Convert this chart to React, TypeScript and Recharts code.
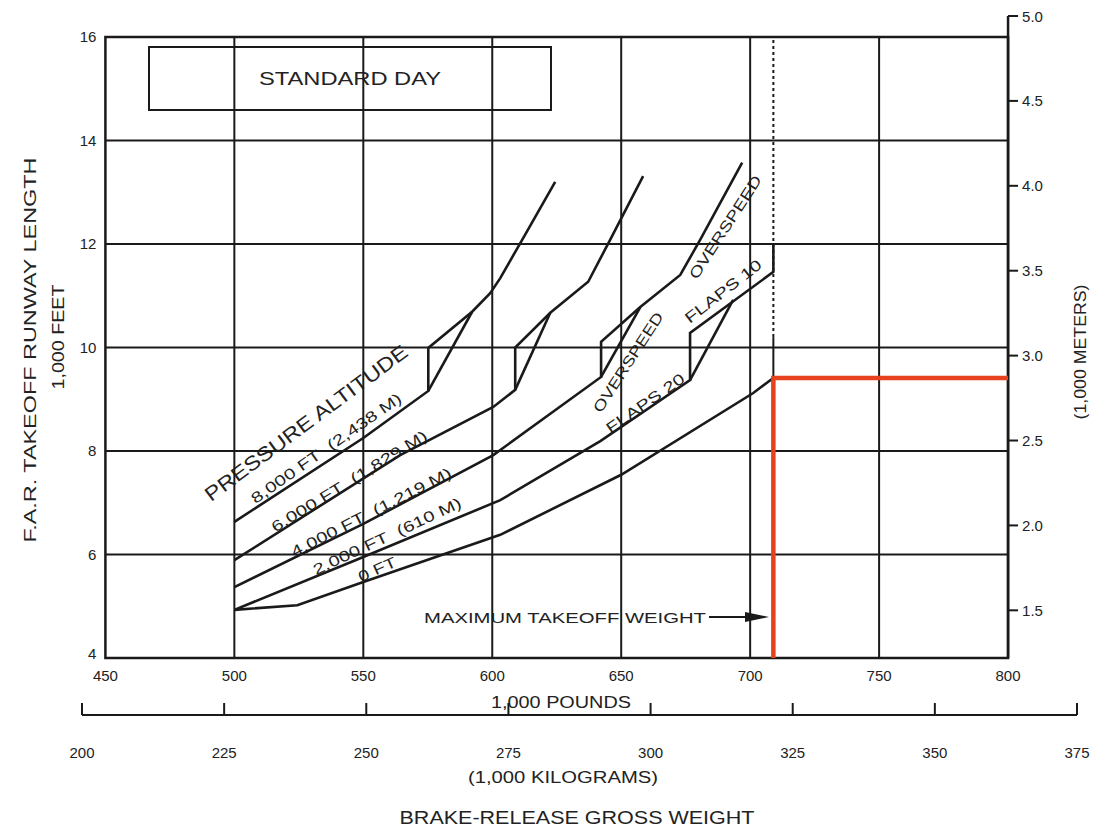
import React from 'react';
import { LineChart, Line, XAxis, YAxis, ReferenceLine, ReferenceArea } from 'recharts';

// axis ticks
const LB_TICKS = [450, 500, 550, 600, 650, 700, 750, 800];
const KG_TICKS = [200, 225, 250, 275, 300, 325, 350, 375];
const FT_TICKS = [4, 6, 8, 10, 12, 14, 16];
const M_TICKS = [1.5, 2.0, 2.5, 3.0, 3.5, 4.0, 4.5, 5.0];
const GRID_LB = [500, 550, 600, 650, 700, 750];
const GRID_FT = [6, 8, 10, 12, 14];

// [1,000 lb, 1,000 ft]
const ALT_8000 = [[500, 6.63], [550, 8.25], [575.2, 9.16], [575.2, 9.99], [592.2, 10.69], [599.2, 11.05], [603.1, 11.34], [611.6, 12.08], [624.4, 13.2]];
const ALT_8000_OVERSPEED = [[575.2, 9.16], [592.2, 10.69]];
const ALT_6000 = [[500, 5.89], [564.3, 7.92], [600.4, 8.85], [608.9, 9.18], [608.9, 10.0], [622.5, 10.67], [637.2, 11.27], [645.7, 12.08], [658.5, 13.31]];
const ALT_6000_OVERSPEED = [[608.9, 9.18], [622.5, 10.67]];
const ALT_4000 = [[500, 5.37], [550, 6.59], [600.4, 7.92], [642.2, 9.43], [642.2, 10.11], [657.4, 10.78], [672.9, 11.4], [680.6, 12.08], [696.9, 13.57]];
const ALT_4000_OVERSPEED = [[642.2, 9.43], [657.4, 10.78]];
const ALT_2000 = [[500, 4.93], [550, 5.95], [603.1, 7.05], [641.9, 8.19], [676.7, 9.37], [676.7, 10.28], [709, 11.46], [709, 11.98]];
const ALT_2000_OVERSPEED = [[676.7, 9.37], [693.4, 10.92]];
const ALT_0 = [[500, 4.93], [524.4, 5.02], [550, 5.47], [603.1, 6.38], [650, 7.54], [701.2, 9.12], [709, 9.41]];

const MAX_TAKEOFF_WEIGHT = 709;
const MTOW_RUNWAY = 9.41;
const MTOW_PATH = [[MAX_TAKEOFF_WEIGHT, 4], [MAX_TAKEOFF_WEIGHT, MTOW_RUNWAY], [800, MTOW_RUNWAY]];

const KG_PER_LB = 0.45359237;
const M_PER_FT = 0.3048;
const LB_MIN = 200 / KG_PER_LB;
const LB_MAX = 375 / KG_PER_LB;
const FT_MAX = 5 / M_PER_FT;

const W = 1096;
const H = 832;
const LEFT_W = 82;
const RIGHT_W = 19;
const TOP = 16;
const LB_AXIS_H = 57;
const KG_AXIS_H = 117;
const PLOT_W = W - LEFT_W - RIGHT_W;
const lbX = (lb: number) => LEFT_W + ((lb - LB_MIN) / (LB_MAX - LB_MIN)) * PLOT_W;
const BOX_LEFT = lbX(450);
const BOX_RIGHT = lbX(800);

const FONT = '"Liberation Sans", Arial, sans-serif';
const INK = '#1a1a1a';
const TEXT = '#222';

// axis ids: the bottom axes are stacked in id order, pounds first
const LB = 'a_lb';
const KG = 'b_kg';
const FT = 'a_ft';
const M = 'b_m';

const pts = (arr: number[][]) => arr.map(([lb, ft]) => ({ lb, ft }));

const Note = ({ x, y, angle = 0, size = 15, len, anchor = 'middle', halo = false, children }: any) => (
  <text
    x={x}
    y={y}
    transform={angle ? `rotate(${angle} ${x} ${y})` : undefined}
    textAnchor={anchor}
    dominantBaseline="central"
    fontSize={size}
    fontFamily={FONT}
    fill={TEXT}
    textLength={len}
    lengthAdjust={len ? 'spacingAndGlyphs' : undefined}
    stroke={halo ? '#fff' : undefined}
    strokeWidth={halo ? 5 : undefined}
    paintOrder="stroke"
  >
    {children}
  </text>
);

const FtTick = ({ y, payload }: any) => (
  <text x={BOX_LEFT - 9} y={payload.value === 4 ? y - 5 : y} textAnchor="end" dominantBaseline="central" fontSize={15} fontFamily={FONT} fill={TEXT}>
    {payload.value}
  </text>
);

const MTick = ({ y, payload }: any) => (
  <g>
    <line x1={BOX_RIGHT} x2={BOX_RIGHT + 10} y1={y} y2={y} stroke={INK} strokeWidth={2} />
    <text x={BOX_RIGHT + 14} y={y} textAnchor="start" dominantBaseline="central" fontSize={15} fontFamily={FONT} fill={TEXT}>
      {payload.value.toFixed(1)}
    </text>
  </g>
);

const LbTick = ({ x, y, payload }: any) => (
  <text x={x} y={y + 17} textAnchor="middle" dominantBaseline="central" fontSize={15} fontFamily={FONT} fill={TEXT}>
    {payload.value}
  </text>
);

const KgTick = ({ x, y, payload }: any) => (
  <g>
    <line x1={x} x2={x} y1={y} y2={y - 12} stroke={INK} strokeWidth={2} />
    <text x={x} y={y + 37} textAnchor="middle" dominantBaseline="central" fontSize={15} fontFamily={FONT} fill={TEXT}>
      {payload.value}
    </text>
  </g>
);

const curve = (data: number[][], key: string) => (
  <Line
    key={key}
    xAxisId={LB}
    yAxisId={FT}
    data={pts(data)}
    dataKey="ft"
    type="linear"
    stroke={INK}
    strokeWidth={2.6}
    dot={false}
    isAnimationActive={false}
  />
);

export default function App() {
  return (
    <div style={{ position: 'absolute', left: 0, top: 0, background: '#fff' }}>
      <LineChart width={W} height={H} margin={{ top: TOP, right: 0, bottom: 0, left: 0 }}>
        <XAxis xAxisId={LB} type="number" dataKey="lb" domain={[LB_MIN, LB_MAX]} allowDataOverflow ticks={LB_TICKS} interval={0}
          height={LB_AXIS_H} axisLine={false} tickLine={false} tickSize={0} tickMargin={0} tick={<LbTick />} />
        <XAxis xAxisId={KG} type="number" dataKey="kg" domain={[200, 375]} allowDataOverflow ticks={KG_TICKS} interval={0}
          height={KG_AXIS_H} axisLine={{ stroke: INK, strokeWidth: 2 }} tickLine={false} tickSize={0} tickMargin={0} tick={<KgTick />} />
        <YAxis yAxisId={FT} type="number" domain={[4, FT_MAX]} allowDataOverflow ticks={FT_TICKS} interval={0}
          width={LEFT_W} axisLine={false} tickLine={false} tickSize={0} tickMargin={0} tick={<FtTick />} />
        <YAxis yAxisId={M} orientation="right" type="number" domain={[4 * M_PER_FT, 5]} allowDataOverflow ticks={M_TICKS} interval={0}
          width={RIGHT_W} axisLine={false} tickLine={false} tickSize={0} tickMargin={0} tick={<MTick />} />

        {GRID_FT.map((v) => (
          <ReferenceLine key={`h${v}`} xAxisId={LB} yAxisId={FT} segment={[{ x: 450, y: v }, { x: 800, y: v }]} stroke={INK} strokeWidth={2} />
        ))}
        {GRID_LB.map((v) => (
          <ReferenceLine key={`v${v}`} xAxisId={LB} yAxisId={FT} segment={[{ x: v, y: 4 }, { x: v, y: 16 }]} stroke={INK} strokeWidth={2} />
        ))}
        <ReferenceArea xAxisId={LB} yAxisId={FT} x1={450} x2={800} y1={4} y2={16} fill="none" fillOpacity={0} stroke={INK} strokeWidth={2.5} />
        <ReferenceLine xAxisId={LB} yAxisId={FT} segment={[{ x: 800, y: 4 }, { x: 800, y: FT_MAX }]} stroke={INK} strokeWidth={2.5} />

        <ReferenceLine xAxisId={LB} yAxisId={FT} segment={[{ x: MAX_TAKEOFF_WEIGHT, y: 10.2 }, { x: MAX_TAKEOFF_WEIGHT, y: 16 }]} stroke={INK} strokeWidth={2} strokeDasharray="3 3" />
        <ReferenceLine xAxisId={LB} yAxisId={FT} segment={[{ x: MAX_TAKEOFF_WEIGHT, y: MTOW_RUNWAY }, { x: MAX_TAKEOFF_WEIGHT, y: 10.2 }]} stroke={INK} strokeWidth={2} />

        <g>
          <rect x={149} y={47} width={402} height={63} fill="#fff" stroke={INK} strokeWidth={2} />
          <Note x={350} y={79} size={18} len={182}>STANDARD DAY</Note>

          <Note x={306} y={423} angle={-36.6} size={20} len={247} halo>PRESSURE ALTITUDE</Note>
          <Note x={326} y={448} angle={-35} len={180} halo>{'8,000 FT\u00a0\u00a0(2,438 M)'}</Note>
          <Note x={349} y={481} angle={-31.5} len={180} halo>{'6,000 FT\u00a0\u00a0(1,829 M)'}</Note>
          <Note x={371} y={512} angle={-27} len={178} halo>{'4,000 FT\u00a0\u00a0(1,219 M)'}</Note>
          <Note x={387} y={536} angle={-25} len={162} halo>{'2,000 FT\u00a0\u00a0(610 M)'}</Note>
          <Note x={377} y={569} angle={-24} len={40} halo>0 FT</Note>

          <Note x={628} y={362} angle={-57} len={116} halo>OVERSPEED</Note>
          <Note x={645} y={403} angle={-35} len={92} halo>FLAPS 20</Note>
          <Note x={725} y={227} angle={-57} len={120} halo>OVERSPEED</Note>
          <Note x={723} y={291} angle={-38} len={93} halo>FLAPS 10</Note>

          <Note x={424} y={617} anchor="start" len={282} halo>MAXIMUM TAKEOFF WEIGHT</Note>
          <line x1={709} x2={750} y1={617} y2={617} stroke={INK} strokeWidth={2} />
          <polygon points="745,612 769,617 745,622" fill={INK} />

          <Note x={30} y={350} angle={-90} size={17} len={385}>F.A.R. TAKEOFF RUNWAY LENGTH</Note>
          <Note x={58} y={337} angle={-90} size={16} len={105}>1,000 FEET</Note>
          <Note x={1080} y={352} angle={-90} size={16} len={135}>(1,000 METERS)</Note>
          <Note x={561} y={702} size={16} len={140}>1,000 POUNDS</Note>
          <Note x={563} y={777} size={16} len={190}>(1,000 KILOGRAMS)</Note>
          <Note x={577} y={818} size={18} len={355}>BRAKE-RELEASE GROSS WEIGHT</Note>
        </g>

        {curve(ALT_8000, 'a8000')}
        {curve(ALT_8000_OVERSPEED, 'a8000o')}
        {curve(ALT_6000, 'a6000')}
        {curve(ALT_6000_OVERSPEED, 'a6000o')}
        {curve(ALT_4000, 'a4000')}
        {curve(ALT_4000_OVERSPEED, 'a4000o')}
        {curve(ALT_2000, 'a2000')}
        {curve(ALT_2000_OVERSPEED, 'a2000o')}
        {curve(ALT_0, 'a0')}
        <Line xAxisId={LB} yAxisId={FT} data={pts(MTOW_PATH)} dataKey="ft" type="linear" stroke="#e8411e" strokeWidth={4.5} dot={false} isAnimationActive={false} />
      </LineChart>
    </div>
  );
}
